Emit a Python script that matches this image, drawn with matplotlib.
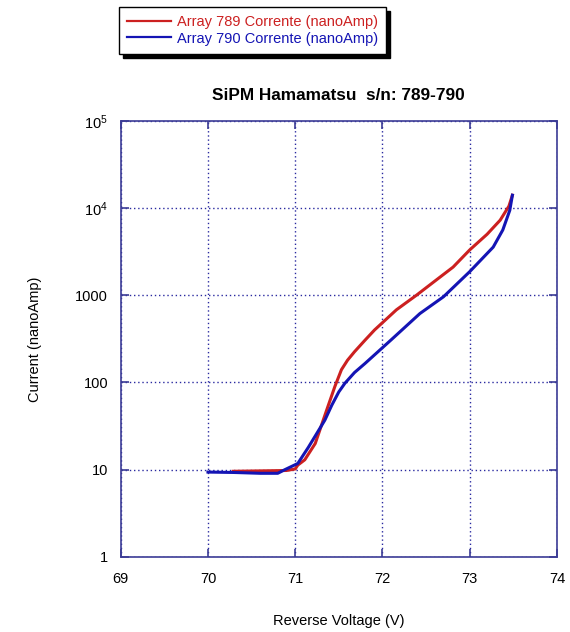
import matplotlib
matplotlib.use("Agg")
import matplotlib.pyplot as plt
from matplotlib.ticker import FixedLocator, FixedFormatter, NullLocator

plt.rcParams["font.family"] = ["Liberation Sans", "DejaVu Sans"]
plt.rcParams["mathtext.fontset"] = "custom"
plt.rcParams["mathtext.rm"] = "Liberation Sans"
plt.rcParams["mathtext.default"] = "regular"

# Array 789 (red)
v789 = [70.29, 70.6, 70.9, 71.0, 71.03, 71.11, 71.23, 71.36, 71.455, 71.53, 71.6, 71.68,
        71.8, 71.91, 72.16, 72.39, 72.60, 72.81, 73.0, 73.2, 73.35, 73.45, 73.49]
i789 = [9.6, 9.7, 9.8, 10.2, 11.3, 13, 20, 48, 90, 140, 180, 225,
        305, 400, 680, 1000, 1450, 2100, 3300, 5000, 7250, 10500, 14000]

# Array 790 (blue)
v790 = [70.0, 70.3, 70.6, 70.8, 70.88, 71.03, 71.15, 71.34, 71.42, 71.5, 71.57, 71.68, 71.80,
        72.10, 72.43, 72.70, 73.0, 73.27, 73.38, 73.46, 73.49]
i790 = [9.4, 9.3, 9.1, 9.1, 10, 11.8, 18, 37, 55, 78, 98, 130, 165,
        308, 617, 960, 1860, 3560, 5600, 9400, 14000]

yticks = [1, 10, 100, 1000, 1e4, 1e5]
ylabels = ["1", "10", "100", "1000", r"$10^4$", r"$10^5$"]
xticks = [69, 70, 71, 72, 73, 74]

AXCOL = "#3c3c96"
GRIDCOL = "#2a2aa0"

fig = plt.figure(figsize=(5.7, 6.32), dpi=100)
ax = fig.add_axes([0.2118, 0.1187, 0.7652, 0.6903])

l1, = ax.plot(v789, i789, color="#cc2020", lw=2.2, label="Array 789 Corrente (nanoAmp)")
l2, = ax.plot(v790, i790, color="#1414b4", lw=2.2, label="Array 790 Corrente (nanoAmp)")

ax.set_yscale("log")
ax.set_xlim(69, 74)
ax.set_ylim(1, 1e5)
ax.yaxis.set_major_locator(FixedLocator(yticks))
ax.yaxis.set_major_formatter(FixedFormatter(ylabels))
ax.yaxis.set_minor_locator(NullLocator())
ax.set_xticks(xticks)
ax.set_xticklabels([str(t) for t in xticks])

ax.grid(True, color=GRIDCOL, linestyle=(0, (1.0, 2.0)), linewidth=1.0)
for s in ax.spines.values():
    s.set_color(AXCOL)
    s.set_linewidth(1.2)
ax.tick_params(direction="in", length=6, width=1.2, color=AXCOL,
               top=True, right=True, labelsize=10.5, pad=9)
ax.tick_params(axis="x", pad=11)

ax.set_xlabel("Reverse Voltage (V)", fontsize=10.5, labelpad=20)
ax.set_ylabel("Current (nanoAmp)", fontsize=10.5, labelpad=24)
ax.set_title("SiPM Hamamatsu  s/n: 789-790", fontsize=12.4, fontweight="bold", pad=15)

leg = fig.legend(handles=[l1, l2], loc="upper left", bbox_to_anchor=(0.196, 1.001),
                 fontsize=10.5, labelcolor="linecolor", frameon=True, fancybox=False,
                 shadow={"color": "black", "alpha": 1.0, "ox": 3, "oy": -3},
                 handlelength=3.0, borderpad=0.55, labelspacing=0.2, handletextpad=0.4)
leg.get_frame().set_edgecolor("black")
leg.get_frame().set_linewidth(1.0)
for ln in leg.get_lines():
    ln.set_linewidth(1.6)

fig.savefig("out.png", dpi=100)
